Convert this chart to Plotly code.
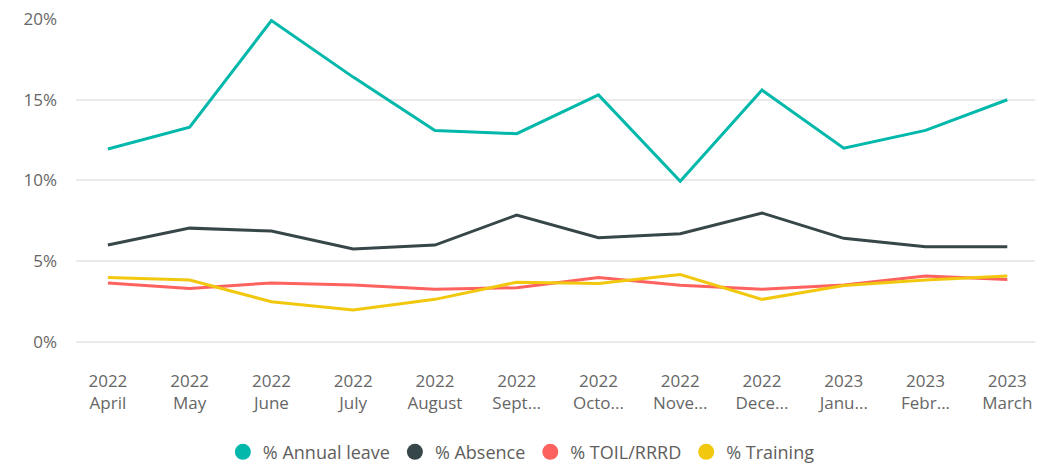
import plotly.graph_objects as go

months = ["2022<br>April", "2022<br>May", "2022<br>June", "2022<br>July", "2022<br>August",
          "2022<br>Sept...", "2022<br>Octo...", "2022<br>Nove...", "2022<br>Dece...",
          "2023<br>Janu...", "2023<br>Febr...", "2023<br>March"]
annual_leave = [11.95, 13.3, 19.9, 16.4, 13.1, 12.9, 15.3, 9.95, 15.6, 12.0, 13.1, 15.0]
absence = [6.0, 7.05, 6.87, 5.76, 6.0, 7.86, 6.46, 6.7, 7.99, 6.42, 5.9, 5.9]
toil = [3.66, 3.32, 3.66, 3.53, 3.27, 3.36, 4.0, 3.52, 3.27, 3.53, 4.08, 3.87]
training = [4.0, 3.84, 2.49, 1.98, 2.64, 3.7, 3.62, 4.18, 2.64, 3.5, 3.84, 4.08]
y_ticks = [0, 5, 10, 15, 20]
y_ticktext = ["0%", "5%", "10%", "15%", "20%"]

series = [
    ("% Annual leave", annual_leave, "#01B8AA"),
    ("% Absence", absence, "#374649"),
    ("% TOIL/RRRD", toil, "#FD625E"),
    ("% Training", training, "#F2C80F"),
]

font_family = "Open Sans, Segoe UI, sans-serif"
fig = go.Figure()
x_idx = list(range(len(months)))
for name, vals, col in series:
    fig.add_trace(go.Scatter(
        x=x_idx, y=vals, name=name, mode="lines",
        line=dict(color=col, width=3),
        cliponaxis=False, showlegend=False,
    ))
# legend entries with circle symbols
for name, vals, col in series:
    fig.add_trace(go.Scatter(
        x=[None], y=[None], name=name, mode="markers",
        marker=dict(color=col, size=16, symbol="circle"),
        showlegend=True,
    ))

fig.update_layout(
    width=1043, height=466,
    margin=dict(l=68, r=11, t=10, b=132, autoexpand=False),
    paper_bgcolor="white", plot_bgcolor="white",
    font=dict(family=font_family, size=17, color="#666666"),
    showlegend=True,
    legend=dict(orientation="h", x=0.462, xanchor="center", y=-0.34, yanchor="middle",
                font=dict(size=18, color="#605E5C"), itemsizing="trace",
                traceorder="normal", itemwidth=30, tracegroupgap=0),
    xaxis=dict(
        tickmode="array", tickvals=x_idx, ticktext=months,
        range=[-0.39, 11.4], showgrid=False, zeroline=False, showline=False,
        ticks="", tickfont=dict(size=17, color="#666666"),
        automargin=False, ticklabelstandoff=27,
    ),
    yaxis=dict(
        range=[0, 20.06], tickmode="array", tickvals=y_ticks, ticktext=y_ticktext,
        showgrid=True, gridcolor="#EAEAEA", gridwidth=2,
        zeroline=True, zerolinecolor="#EAEAEA", zerolinewidth=2,
        showline=False, ticks="", ticklabelstandoff=18, automargin=False,
        ticklabeloverflow="allow",
        tickfont=dict(size=17, color="#666666"),
    ),
)

fig.write_html("out.html")
